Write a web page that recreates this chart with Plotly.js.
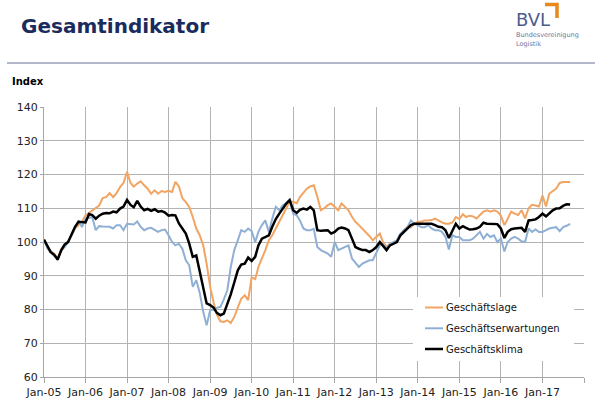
<!DOCTYPE html>
<html>
<head>
<meta charset="utf-8">
<script src="https://cdn.plot.ly/plotly-3.0.1.min.js"></script>
<style>
  html, body { margin: 0; padding: 0; background: #ffffff; }
  #chart { width: 600px; height: 409px; }
</style>
</head>
<body>
<div id="chart"></div>
<script>
// Monthly values, Jan 2005 .. Sep 2017 (153 months)
const startYear = 2005;
const seriesNames = ["Geschäftslage", "Geschäftserwartungen", "Geschäftsklima"];

const geschaeftslage = [
  100.7, 98.5, 97.3, 96.5, 95.0, 98.0, 99.0, 100.0, 102.0, 104.0, 105.0, 106.0,   // 2005
  107.9, 108.6, 109.2, 110.0, 110.8, 113.0, 113.3, 114.5, 113.3, 114.5, 116.3, 117.5, // 2006
  120.8, 117.5, 116.4, 117.3, 118.0, 116.8, 115.8, 114.3, 115.3, 114.3, 115.1, 114.8, // 2007
  115.2, 114.8, 117.8, 116.5, 113.0, 111.8, 110.4, 107.4, 104.0, 102.0, 99.0, 93.6,   // 2008
  86.7, 82.0, 78.5, 76.5, 76.3, 76.8, 76.0, 77.8, 80.5, 83.2, 84.2, 82.8,            // 2009
  89.5, 89.0, 92.6, 95.0, 97.6, 100.5, 102.0, 104.0, 106.0, 108.0, 110.0, 112.0,     // 2010
  111.9, 111.5, 113.3, 114.5, 115.8, 116.5, 116.8, 113.5, 109.4, 110.0, 110.9, 111.4, // 2011
  110.5, 109.4, 111.4, 110.5, 109.4, 107.5, 106.0, 105.0, 104.0, 103.0, 101.8, 100.5, // 2012
  101.5, 102.5, 100.0, 98.5, 99.5, 99.8, 100.5, 102.0, 103.5, 104.4, 104.4, 105.4,   // 2013
  106.0, 106.0, 106.4, 106.4, 106.5, 106.9, 106.3, 105.8, 105.4, 105.4, 105.8, 107.4, // 2014
  106.8, 108.2, 107.4, 107.8, 107.6, 107.0, 108.0, 109.0, 109.4, 109.0, 109.4, 109.0, // 2015
  107.8, 105.0, 106.9, 109.0, 108.4, 108.0, 109.4, 107.0, 110.0, 111.0, 110.8, 110.5, // 2016
  113.8, 110.5, 114.3, 115.0, 115.8, 117.5, 117.8, 117.8, 117.8                       // 2017
];

const geschaeftserwartungen = [
  100.7, 98.0, 97.0, 96.0, 94.8, 97.5, 98.5, 100.0, 102.0, 104.0, 106.4, 104.4,     // 2005
  106.9, 107.2, 107.4, 103.5, 104.7, 104.6, 104.5, 104.5, 104.0, 105.0, 105.0, 103.5, // 2006
  105.4, 105.3, 105.2, 106.1, 104.5, 103.5, 104.0, 104.2, 103.5, 103.0, 103.5, 103.7, // 2007
  102.0, 100.0, 99.0, 99.5, 98.0, 94.6, 93.1, 86.7, 88.7, 85.0, 79.3, 75.3,           // 2008
  79.8, 80.0, 80.5, 80.8, 83.0, 85.7, 92.6, 97.6, 100.5, 103.5, 103.0, 104.0,         // 2009
  103.2, 100.0, 103.0, 105.0, 106.4, 103.0, 106.9, 110.4, 109.4, 110.9, 111.4, 112.4, // 2010
  108.4, 107.9, 106.4, 104.0, 103.5, 103.5, 103.9, 98.5, 97.6, 97.2, 96.6, 95.6,     // 2011
  100.0, 97.6, 98.0, 98.5, 99.0, 95.1, 93.8, 92.6, 93.6, 94.0, 94.6, 94.6,           // 2012
  96.6, 99.0, 99.5, 98.0, 99.5, 100.0, 100.5, 102.5, 103.5, 104.4, 106.4, 105.4,     // 2013
  105.0, 104.4, 104.4, 105.0, 104.0, 103.5, 103.5, 103.0, 101.5, 97.8, 102.0, 101.5, // 2014
  101.5, 100.5, 100.5, 100.5, 101.0, 102.0, 103.0, 101.0, 102.4, 101.5, 102.0, 100.0, // 2015
  101.0, 97.2, 100.0, 101.0, 101.5, 101.0, 100.2, 100.0, 104.0, 103.0, 103.7, 103.0, // 2016
  103.0, 103.5, 104.0, 104.2, 104.4, 103.2, 104.4, 104.8, 105.4                       // 2017
];

const geschaeftsklima = [
  100.7, 98.5, 97.0, 96.2, 94.8, 97.5, 99.2, 100.0, 102.5, 104.5, 106.0, 105.8,     // 2005
  105.8, 108.3, 108.0, 106.9, 107.8, 108.4, 108.6, 108.5, 109.0, 108.8, 109.9, 110.5, // 2006
  112.5, 111.0, 110.3, 112.2, 110.5, 109.4, 109.8, 109.2, 109.7, 109.0, 109.2, 108.7, // 2007
  107.8, 108.0, 107.9, 105.5, 104.0, 102.5, 99.5, 95.6, 96.0, 91.0, 86.0, 81.8,       // 2008
  81.3, 80.5, 79.0, 78.3, 78.8, 81.5, 84.5, 88.0, 91.6, 93.3, 93.6, 95.4,            // 2009
  94.4, 95.6, 99.0, 101.0, 101.6, 102.0, 104.5, 106.8, 108.4, 110.0, 111.4, 112.4,   // 2010
  109.4, 108.6, 109.5, 109.9, 109.6, 110.4, 109.4, 103.5, 103.3, 103.4, 103.5, 102.5, // 2011
  103.0, 104.0, 104.3, 104.0, 103.5, 101.0, 98.5, 98.0, 97.6, 97.6, 97.0, 97.6,       // 2012
  98.5, 100.0, 99.0, 97.6, 99.0, 99.6, 100.0, 102.0, 103.0, 104.0, 105.0, 105.4,     // 2013
  105.4, 105.4, 105.5, 105.4, 105.4, 105.0, 104.5, 104.4, 103.5, 101.2, 103.5, 105.4, // 2014
  104.0, 104.7, 104.2, 103.7, 103.8, 104.0, 104.5, 105.7, 105.4, 105.4, 105.2, 105.3, // 2015
  104.0, 101.2, 103.0, 103.8, 104.0, 104.0, 104.2, 103.0, 106.4, 106.5, 106.7, 107.4, // 2016
  108.4, 107.6, 108.6, 109.4, 109.9, 110.0, 110.7, 111.2, 111.1                       // 2017
];

const yearTicks = ["2005","2006","2007","2008","2009","2010","2011","2012","2013","2014","2015","2016","2017","2018"];
const yearTickText = ["Jan-05","Jan-06","Jan-07","Jan-08","Jan-09","Jan-10","Jan-11","Jan-12","Jan-13","Jan-14","Jan-15","Jan-16","Jan-17",""];
const yTicks = [60, 70, 80, 90, 100, 110, 120, 130, 140];

const colors = ["#f2a462", "#8fb0d4", "#000000"];
const widths = [2, 2, 2.5];

function monthDates(n) {
  const out = [];
  for (let i = 0; i < n; i++) {
    const y = startYear + Math.floor(i / 12);
    const m = (i % 12) + 1;
    out.push(y + "-" + (m < 10 ? "0" + m : m) + "-01");
  }
  return out;
}

const seriesValues = [geschaeftslage, geschaeftserwartungen, geschaeftsklima];
const traces = seriesValues.map((vals, k) => ({
  type: "scatter",
  mode: "lines",
  name: seriesNames[k],
  x: monthDates(vals.length),
  y: vals,
  line: { color: colors[k], width: widths[k] },
  showlegend: false,
  hoverinfo: "skip"
}));

const FONT = "DejaVu Sans, Verdana, sans-serif";
const W = 600, H = 409;
const px = x => x / W;            // container px -> paper fraction helper for header items
const py = y => 1 - y / H;

// Manual legend (white box + sample lines + labels)
const legendRows = [307.5, 328.3, 349];
const shapes = [
  // header separator line
  { type: "line", xref: "paper", yref: "paper", layer: "above",
    x0: -37 / 540, x1: 551 / 540, y0: (377 - 63) / 270, y1: (377 - 63) / 270,
    line: { color: "#9aa1b8", width: 1.5 } },
  // BVL orange corner bracket
  { type: "path", xref: "paper", yref: "paper", layer: "above",
    path: "M " + ((545 - 44) / 540) + "," + ((377 - 4.5) / 270) +
          " L " + ((557 - 44) / 540) + "," + ((377 - 4.5) / 270) +
          " L " + ((557 - 44) / 540) + "," + ((377 - 18) / 270),
    line: { color: "#e8891e", width: 3.5 } },
  // legend background
  { type: "rect", xref: "paper", yref: "paper", layer: "above",
    x0: (413 - 44) / 540, x1: (574 - 44) / 540, y0: (377 - 361) / 270, y1: (377 - 297) / 270,
    fillcolor: "#ffffff", line: { width: 0 } }
];
legendRows.forEach((ry, k) => {
  shapes.push({ type: "line", xref: "paper", yref: "paper", layer: "above",
    x0: (425 - 44) / 540, x1: (443 - 44) / 540, y0: (377 - ry) / 270, y1: (377 - ry) / 270,
    line: { color: colors[k], width: widths[k] } });
});

const annotations = [
  { text: "BVL", xref: "paper", yref: "paper", x: (514 - 44) / 540, y: (377 - 19.5) / 270,
    xanchor: "left", yanchor: "middle", showarrow: false,
    font: { family: FONT, size: 18, color: "#4f5b8e" } },
  { text: "Bundesvereinigung", xref: "paper", yref: "paper", x: (514 - 44) / 540, y: (377 - 35) / 270,
    xanchor: "left", yanchor: "middle", showarrow: false,
    font: { family: FONT, size: 6.5, color: "#6b73a0" } },
  { text: "Logistik", xref: "paper", yref: "paper", x: (514 - 44) / 540, y: (377 - 43.5) / 270,
    xanchor: "left", yanchor: "middle", showarrow: false,
    font: { family: FONT, size: 6.5, color: "#6b73a0" } },
  { text: "<b>Index</b>", xref: "paper", yref: "paper", x: (10 - 44) / 540, y: (377 - 81.5) / 270,
    xanchor: "left", yanchor: "middle", showarrow: false,
    font: { family: FONT, size: 10, color: "#000000" } }
];
legendRows.forEach((ry, k) => {
  annotations.push({ text: seriesNames[k], xref: "paper", yref: "paper",
    x: (444 - 44) / 540, y: (377 - ry) / 270, xanchor: "left", yanchor: "middle",
    showarrow: false, font: { family: FONT, size: 10, color: "#111111" } });
});

const layout = {
  width: W, height: H,
  paper_bgcolor: "#ffffff", plot_bgcolor: "#ffffff",
  margin: { l: 44, r: 16, t: 107, b: 32, pad: 0 },
  font: { family: FONT, size: 11, color: "#222222" },
  title: {
    text: "<b>Gesamtindikator</b>",
    x: 21 / W, xanchor: "left", xref: "container",
    y: 1 - 26 / H, yanchor: "middle", yref: "container",
    font: { family: FONT, size: 20, color: "#1a2b5e" }
  },
  xaxis: {
    type: "date",
    range: ["2005-01-01", "2018-01-01"],
    tickmode: "array",
    tickvals: yearTicks.map(y => y + "-01-01"),
    ticktext: yearTickText,
    showgrid: true, gridcolor: "#b3b3b3", gridwidth: 1,
    showline: true, linecolor: "#a6a6a6", linewidth: 1,
    ticks: "outside", ticklen: 5, tickcolor: "#a6a6a6",
    tickfont: { family: FONT, size: 11, color: "#222222" },
    zeroline: false, fixedrange: true
  },
  yaxis: {
    range: [60, 140],
    tickmode: "array",
    tickvals: yTicks,
    showgrid: true, gridcolor: "#b3b3b3", gridwidth: 1,
    showline: true, linecolor: "#a6a6a6", linewidth: 1,
    ticks: "outside", ticklen: 3, tickcolor: "#a6a6a6",
    tickfont: { family: FONT, size: 11, color: "#222222" },
    zeroline: false, fixedrange: true
  },
  shapes: shapes,
  annotations: annotations,
  showlegend: false
};

Plotly.newPlot("chart", traces, layout, { displayModeBar: false, staticPlot: true });
</script>
</body>
</html>
